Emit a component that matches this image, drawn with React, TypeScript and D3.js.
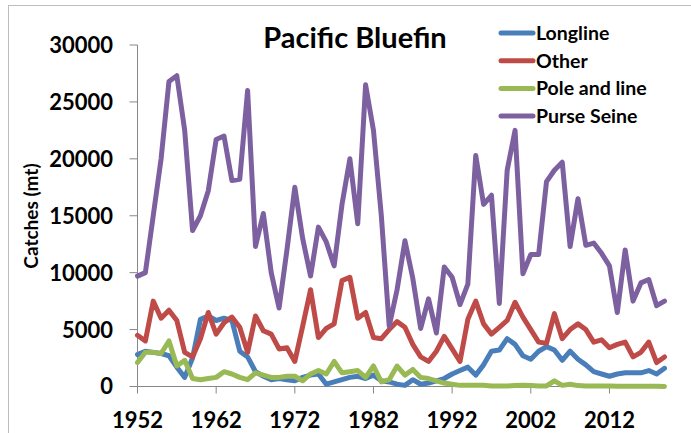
import React from "react";
import * as d3 from "d3";

const years: number[] = d3.range(1952, 2020);

const longline: number[] = [
  2800, 3100, 3000, 2900, 2700, 1700, 800, 2500, 5900, 6200,
  5800, 6000, 5800, 3100, 2600, 1300, 900, 600, 700, 600,
  500, 800, 1000, 1100, 200, 400, 600, 800, 900, 700,
  1000, 500, 400, 200, 100, 600, 200, 300, 500, 700,
  1100, 1400, 1700, 1000, 1900, 3100, 3200, 4200, 3700, 2700,
  2400, 3100, 3500, 3200, 2300, 3100, 2400, 1900, 1300, 1100,
  900, 1100, 1200, 1200, 1200, 1400, 1100, 1600,
];

const other: number[] = [
  4500, 4000, 7500, 6000, 6700, 5800, 3000, 2600, 4200, 6500,
  4600, 5600, 6100, 5200, 3000, 6200, 4900, 4600, 3300, 3400,
  2200, 5300, 8500, 4300, 5100, 5500, 9300, 9600, 6000, 6500,
  4300, 4200, 5000, 5700, 5200, 3700, 2600, 2200, 3100, 4400,
  3300, 2200, 5900, 7500, 5500, 4600, 5200, 5800, 7400, 6100,
  5000, 3900, 3800, 6400, 4200, 5000, 5500, 5000, 3900, 4100,
  3400, 3700, 3900, 2600, 3000, 3900, 2100, 2600,
];

const poleAndLine: number[] = [
  2100, 3000, 3000, 2900, 4000, 1800, 2300, 700, 600, 700,
  800, 1300, 1100, 800, 600, 1200, 1000, 800, 800, 900,
  900, 500, 1100, 1400, 1100, 2200, 1200, 1300, 1400, 800,
  1800, 400, 600, 1800, 1000, 1500, 800, 700, 500, 300,
  200, 100, 100, 100, 100, 50, 50, 50, 80, 100,
  80, 50, 50, 500, 100, 200, 80, 50, 50, 50,
  50, 30, 30, 30, 30, 30, 20, 0,
];

const purseSeine: number[] = [
  9700, 10000, 15000, 20000, 26800, 27300, 22500, 13700, 15000, 17200,
  21700, 22000, 18100, 18200, 26000, 12300, 15200, 10000, 6900, 12000,
  17500, 13000, 9700, 14000, 12700, 10600, 16000, 20000, 14300, 26500,
  22500, 15000, 5300, 8500, 12800, 9500, 5100, 7700, 4700, 10500,
  9600, 7200, 9000, 20300, 16000, 16800, 7300, 19000, 22500, 9900,
  11600, 11600, 18000, 19000, 19700, 12300, 16500, 12400, 12600, 11700,
  10600, 6500, 12000, 7500, 9100, 9400, 7100, 7500,
];

const seriesNames: string[] = ["Longline", "Other", "Pole and line", "Purse Seine"];
const seriesValues: number[][] = [longline, other, poleAndLine, purseSeine];
const seriesColors: string[] = ["#4A7EBB", "#BE4B48", "#98B954", "#7D60A0"];

const yTicks: number[] = [0, 5000, 10000, 15000, 20000, 25000, 30000];
const xTicks: number[] = [1952, 1962, 1972, 1982, 1992, 2002, 2012];

const title = "Pacific Bluefin";
const yTitle = "Catches (mt)";

export default function App() {
  const W = 691;
  const H = 433;
  const x = d3.scaleLinear().domain([1952, 2019]).range([137.5, 664.5]);
  const y = d3.scaleLinear().domain([0, 30000]).range([386.5, 45]);
  const font = "Lato, 'Open Sans', sans-serif";
  const axisColor = "#878787";

  const line = (vals: number[]) =>
    d3
      .line<number>()
      .x((_, i) => x(years[i]))
      .y((d) => y(d))(vals) || "";

  return (
    <svg
      width={W}
      height={H}
      style={{ position: "absolute", left: 0, top: 0, background: "#fff" }}
      fontFamily={font}
    >
      <rect x={0} y={0} width={W} height={H} fill="#fff" />
      {/* chart frame */}
      <rect x={8.5} y={5.5} width={W + 20} height={H + 20} fill="none" stroke="#BDBDBD" strokeWidth={1} />

      {/* y axis */}
      <line x1={x(1952)} x2={x(1952)} y1={y(30000)} y2={y(0)} stroke={axisColor} strokeWidth={1} />
      {yTicks.map((t) => (
        <g key={"y" + t}>
          <line x1={x(1952) - 8} x2={x(1952)} y1={y(t)} y2={y(t)} stroke={axisColor} strokeWidth={1} />
          <text
            x={113}
            y={y(t)}
            dy="0.36em"
            textAnchor="end"
            fontSize={22}
            fontWeight="bold"
            fill="#000"
          >
            {t}
          </text>
        </g>
      ))}

      {/* x axis */}
      <line x1={x(1952)} x2={x(2019)} y1={y(0)} y2={y(0)} stroke={axisColor} strokeWidth={1} />
      {xTicks.map((t) => (
        <g key={"x" + t}>
          <line x1={x(t)} x2={x(t)} y1={y(0)} y2={y(0) + 7} stroke={axisColor} strokeWidth={1} />
          <text x={x(t)} y={428} textAnchor="middle" fontSize={22} fontWeight="bold" fill="#000">
            {t}
          </text>
        </g>
      ))}

      {/* y axis title */}
      <text
        transform={`translate(38,216) rotate(-90)`}
        textAnchor="middle"
        fontSize={19}
        fontWeight="bold"
        fill="#000"
      >
        {yTitle}
      </text>

      {/* series */}
      {seriesValues.map((vals, i) => (
        <path
          key={seriesNames[i]}
          d={line(vals)}
          fill="none"
          stroke={seriesColors[i]}
          strokeWidth={5}
          strokeLinejoin="round"
          strokeLinecap="round"
        />
      ))}

      {/* title */}
      <text x={355} y={48} textAnchor="middle" fontSize={29} fontWeight="bold" fill="#000">
        {title}
      </text>

      {/* legend */}
      {seriesNames.map((n, i) => {
        const ly = 33 + i * 27.7;
        return (
          <g key={"leg" + n}>
            <line x1={501} x2={533} y1={ly} y2={ly} stroke={seriesColors[i]} strokeWidth={5} strokeLinecap="round" />
            <text x={536} y={ly} dy="0.36em" fontSize={19.5} fontWeight="bold" fill="#000">
              {n}
            </text>
          </g>
        );
      })}
    </svg>
  );
}
